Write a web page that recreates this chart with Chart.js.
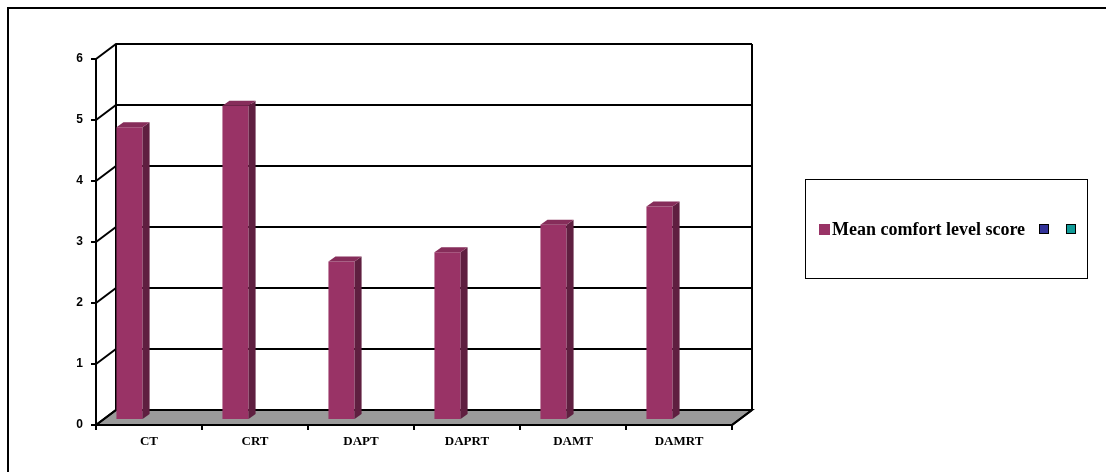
<!DOCTYPE html>
<html><head><meta charset="utf-8">
<script src="https://cdn.jsdelivr.net/npm/chart.js@4.4.1/dist/chart.umd.min.js"></script>
<style>html,body{margin:0;padding:0;background:#fff;overflow:hidden}#wrap{width:1106px;height:472px;position:relative}</style>
</head><body><div id="wrap"><canvas id="c" width="1106" height="472"></canvas></div>
<script>
// ---- data ----
const categories = ['CT', 'CRT', 'DAPT', 'DAPRT', 'DAMT', 'DAMRT'];
const meanComfortLevelScore = [4.8, 5.15, 2.6, 2.75, 3.2, 3.5];
const emptySeries2 = [];
const emptySeries3 = [];
const seriesLabels = ['Mean comfort level score', '', ''];
const yTickValues = [0, 1, 2, 3, 4, 5, 6];

// ---- styling ----
const seriesColors = ['#993366', '#333399', '#119b98'];
const WALL_DX = 20, WALL_DY = 15;      // depth offset of back wall
const BAR_PLANE = 1 / 3;               // bars sit one third deep
const BAR_DX = 7, BAR_DY = 5;          // bar thickness projection

const threeD = {
  id: 'threeD',
  beforeDatasetsDraw(chart) {
    const { ctx, chartArea: a, scales: { x, y } } = chart;
    const yMin = y.getPixelForValue(yTickValues[0]);
    const yMax = y.getPixelForValue(yTickValues[yTickValues.length - 1]);
    ctx.save();
    ctx.strokeStyle = '#000';
    ctx.lineWidth = 2;
    ctx.lineJoin = 'miter';
    // floor
    ctx.beginPath();
    ctx.moveTo(a.left, yMin);
    ctx.lineTo(a.right, yMin);
    ctx.lineTo(a.right + WALL_DX, yMin - WALL_DY);
    ctx.lineTo(a.left + WALL_DX, yMin - WALL_DY);
    ctx.closePath();
    ctx.fillStyle = '#9a9a9a';
    ctx.fill();
    ctx.stroke();
    // side wall diagonals + back wall gridlines
    yTickValues.forEach(v => {
      const py = y.getPixelForValue(v);
      ctx.beginPath();
      ctx.moveTo(a.left, py);
      ctx.lineTo(a.left + WALL_DX, py - WALL_DY);
      ctx.lineTo(a.right + WALL_DX, py - WALL_DY);
      ctx.stroke();
    });
    // back wall verticals
    ctx.beginPath();
    ctx.moveTo(a.left + WALL_DX, yMax - WALL_DY);
    ctx.lineTo(a.left + WALL_DX, yMin - WALL_DY);
    ctx.moveTo(a.right + WALL_DX, yMax - WALL_DY);
    ctx.lineTo(a.right + WALL_DX, yMin - WALL_DY);
    ctx.stroke();
    // front right floor edge
    ctx.beginPath();
    ctx.moveTo(a.right, yMin);
    ctx.lineTo(a.right + WALL_DX, yMin - WALL_DY);
    ctx.stroke();
    ctx.restore();
    // shift bars into their depth plane
    ctx.save();
    ctx.translate(WALL_DX * BAR_PLANE, -WALL_DY * BAR_PLANE);
  },
  afterDatasetsDraw(chart) {
    const { ctx } = chart;
    const meta = chart.getDatasetMeta(0);
    meta.data.forEach(bar => {
      const p = bar.getProps(['x', 'y', 'base', 'width'], true);
      const l = p.x - p.width / 2, r = p.x + p.width / 2;
      // side face
      ctx.beginPath();
      ctx.moveTo(r, p.y);
      ctx.lineTo(r + BAR_DX, p.y - BAR_DY);
      ctx.lineTo(r + BAR_DX, p.base - BAR_DY);
      ctx.lineTo(r, p.base);
      ctx.closePath();
      ctx.fillStyle = '#5f1f40';
      ctx.fill();
      // top face
      ctx.beginPath();
      ctx.moveTo(l, p.y);
      ctx.lineTo(l + BAR_DX, p.y - BAR_DY);
      ctx.lineTo(r + BAR_DX, p.y - BAR_DY);
      ctx.lineTo(r, p.y);
      ctx.closePath();
      ctx.fillStyle = '#862d5a';
      ctx.fill();
    });
    ctx.restore();
  },
  afterDraw(chart) {
    const { ctx } = chart;
    ctx.save();
    // outer frame
    ctx.strokeStyle = '#000';
    ctx.lineWidth = 2;
    ctx.strokeRect(8, 8, 1200, 600);
    // legend box
    ctx.lineWidth = 1;
    ctx.strokeRect(805.5, 179.5, 282, 99);
    // legend entries
    ctx.font = 'bold 18px "Liberation Serif"';
    ctx.textBaseline = 'alphabetic';
    ctx.fillStyle = seriesColors[0];
    ctx.fillRect(819, 224, 11, 11);
    ctx.fillStyle = '#000';
    ctx.fillText(seriesLabels[0], 832, 235);
    const boxesX = [1039, 1066];
    [1, 2].forEach((i, k) => {
      ctx.fillStyle = seriesColors[i];
      ctx.fillRect(boxesX[k], 224, 10, 10);
      ctx.strokeStyle = '#000';
      ctx.lineWidth = 1;
      ctx.strokeRect(boxesX[k] + 0.5, 224.5, 9, 9);
      if (seriesLabels[i]) ctx.fillText(seriesLabels[i], boxesX[k] + 13, 235);
    });
    ctx.restore();
  }
};

new Chart(document.getElementById('c'), {
  type: 'bar',
  data: {
    labels: categories,
    datasets: [
      { label: seriesLabels[0], data: meanComfortLevelScore, backgroundColor: seriesColors[0], borderWidth: 0, clip: false },
      { label: seriesLabels[1], data: emptySeries2, backgroundColor: seriesColors[1], borderWidth: 0 },
      { label: seriesLabels[2], data: emptySeries3, backgroundColor: seriesColors[2], borderWidth: 0 }
    ]
  },
  options: {
    responsive: false,
    animation: false,
    devicePixelRatio: 1,
    categoryPercentage: 0.74,
    barPercentage: 1.0,
    layout: { padding: { left: 0, top: 59, right: 374, bottom: 0 } },
    plugins: { legend: { display: false }, tooltip: { enabled: false } },
    scales: {
      x: {
        afterFit: s => { s.height = 47; },
        grid: { display: true, drawOnChartArea: false, drawTicks: true, tickLength: 5, color: '#000', lineWidth: 2, offset: true },
        border: { display: true, color: '#000', width: 2 },
        ticks: { color: '#000', padding: 4, font: { family: '"Liberation Serif"', size: 13, weight: 'bold' } }
      },
      y: {
        min: 0, max: 6,
        afterFit: s => { s.width = 96; },
        grid: { display: true, drawOnChartArea: false, drawTicks: true, tickLength: 5, color: '#000', lineWidth: 2 },
        border: { display: true, color: '#000', width: 2 },
        ticks: { stepSize: 1, color: '#000', padding: 8, font: { family: '"Liberation Sans"', size: 12, weight: 'bold' } }
      }
    }
  },
  plugins: [threeD]
});
</script></body></html>
